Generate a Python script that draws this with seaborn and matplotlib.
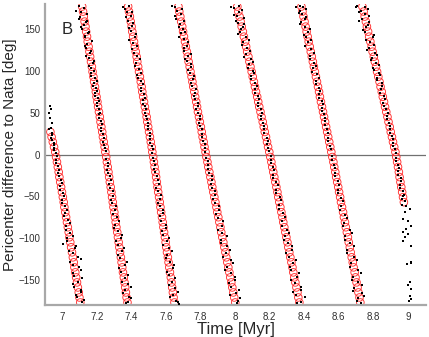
import matplotlib
matplotlib.use("Agg")
import matplotlib.pyplot as plt
import pandas as pd
import seaborn as sns

# pericenter difference (deg) sampled for the smoothed (red) solution, one full wrap
red_deg = [177, 171, 165, 159, 153, 147, 141, 135, 129, 123, 117, 111, 105, 99, 93,
           87, 81, 75, 69, 63, 57, 51, 45, 39, 33, 27, 21, 15, 9, 3,
           -3, -9, -15, -21, -27, -33, -39, -45, -51, -57, -63, -69, -75, -81, -87,
           -93, -99, -105, -111, -117, -123, -129, -135, -141, -147, -153, -159, -165, -171, -177]

# times (Myr) of the red circles, one list per wrap
red_t_b0 = [6.931, 6.938, 6.945, 6.952, 6.959, 6.964, 6.969, 6.974, 6.979, 6.983, 6.988, 6.993,
            6.998, 7.003, 7.008, 7.012, 7.017, 7.022, 7.027, 7.032, 7.037, 7.041, 7.046, 7.051,
            7.056, 7.061, 7.066, 7.070, 7.075, 7.080, 7.085, 7.090, 7.095, 7.099, 7.104]
red_t_b1 = [7.115, 7.120, 7.124, 7.129, 7.134, 7.138, 7.143, 7.147, 7.152, 7.157, 7.161, 7.166,
            7.171, 7.175, 7.180, 7.184, 7.189, 7.194, 7.198, 7.203, 7.207, 7.212, 7.217, 7.221,
            7.226, 7.231, 7.235, 7.240, 7.245, 7.249,
            7.254, 7.258, 7.263, 7.267, 7.271, 7.275, 7.280, 7.284, 7.288, 7.292, 7.296, 7.301,
            7.305, 7.309, 7.313, 7.318, 7.322, 7.326, 7.330, 7.334, 7.339, 7.343, 7.347, 7.351,
            7.356, 7.360, 7.364, 7.368, 7.372, 7.377]
red_t_b2 = [7.381, 7.386, 7.391, 7.396, 7.401, 7.405, 7.410, 7.415, 7.420, 7.425, 7.430, 7.434,
            7.439, 7.444, 7.449, 7.454, 7.459, 7.463, 7.468, 7.473, 7.478, 7.483, 7.488, 7.492,
            7.497, 7.502, 7.507, 7.512, 7.517, 7.521,
            7.526, 7.530, 7.534, 7.539, 7.543, 7.547, 7.551, 7.555, 7.560, 7.564, 7.568, 7.572,
            7.577, 7.581, 7.585, 7.589, 7.594, 7.598, 7.602, 7.606, 7.611, 7.615, 7.619, 7.623,
            7.628, 7.632, 7.636, 7.640, 7.644, 7.649]
red_t_b3 = [7.672, 7.677, 7.683, 7.688, 7.694, 7.699, 7.704, 7.710, 7.715, 7.721, 7.726, 7.731,
            7.737, 7.742, 7.748, 7.753, 7.758, 7.764, 7.769, 7.775, 7.780, 7.785, 7.791, 7.796,
            7.802, 7.807, 7.812, 7.818, 7.823, 7.829,
            7.834, 7.840, 7.845, 7.851, 7.857, 7.863, 7.868, 7.874, 7.880, 7.886, 7.892, 7.897,
            7.903, 7.909, 7.915, 7.920, 7.926, 7.932, 7.938, 7.944, 7.949, 7.955, 7.961, 7.967,
            7.972, 7.978, 7.984, 7.990, 7.995, 8.001]
red_t_b4 = [8.013, 8.019, 8.026, 8.032, 8.038, 8.045, 8.051, 8.058, 8.064, 8.070, 8.077, 8.083,
            8.089, 8.096, 8.102, 8.109, 8.115, 8.121, 8.128, 8.134, 8.140, 8.147, 8.153, 8.160,
            8.166, 8.172, 8.179, 8.185, 8.191, 8.198,
            8.204, 8.210, 8.215, 8.221, 8.227, 8.233, 8.239, 8.245, 8.250, 8.256, 8.262, 8.268,
            8.274, 8.279, 8.285, 8.291, 8.297, 8.303, 8.308, 8.314, 8.320, 8.326, 8.332, 8.337,
            8.343, 8.349, 8.355, 8.361, 8.366, 8.372]
red_t_b5 = [8.384, 8.390, 8.396, 8.402, 8.408, 8.414, 8.420, 8.426, 8.432, 8.438, 8.444, 8.450,
            8.456, 8.462, 8.468, 8.474, 8.480, 8.486, 8.491, 8.497, 8.503, 8.509, 8.515, 8.521,
            8.527, 8.533, 8.539, 8.545, 8.551, 8.557,
            8.563, 8.569, 8.574, 8.580, 8.585, 8.591, 8.597, 8.602, 8.608, 8.613, 8.619, 8.625,
            8.630, 8.636, 8.641, 8.647, 8.653, 8.658, 8.664, 8.669, 8.675, 8.681, 8.686, 8.692,
            8.697, 8.703, 8.709, 8.714, 8.720, 8.725]
red_t_b6 = [8.737, 8.744, 8.750, 8.757, 8.763, 8.770, 8.776, 8.783, 8.790, 8.796, 8.803, 8.809,
            8.816, 8.822, 8.829, 8.836, 8.842, 8.849, 8.855, 8.862, 8.868, 8.875, 8.882, 8.888,
            8.895, 8.901, 8.908, 8.914, 8.921, 8.928,
            8.933, 8.938, 8.943, 8.948, 8.952, 8.957, 8.962, 8.967, 8.972, 8.977]

# individual samples (black dots): (time Myr, deg)
dots_b0 = [(6.930, 58), (6.937, 55), (6.920, 50), (6.928, 44), (6.942, 38), (6.935, 32),
           (6.939, 26), (6.936, 20), (6.949, 14), (6.951, 8), (6.962, 2), (6.965, -6),
           (6.976, -14), (6.976, -22), (6.990, -30), (6.989, -38), (7.003, -46), (7.001, -54),
           (7.017, -62), (7.013, -70), (7.032, -78), (7.024, -86), (7.046, -94), (7.029, -100),
           (7.003, -107), (7.071, -112), (7.059, -118), (7.106, -125), (7.061, -132),
           (7.111, -138), (7.065, -145), (7.090, -152), (7.067, -158), (7.107, -165),
           (7.085, -170), (7.113, -176),
           (6.924, 30), (6.940, 23), (6.939, 17), (6.954, 11), (6.952, 5), (6.968, -2),
           (6.966, -10), (6.981, -18), (6.978, -26), (6.997, -34), (6.988, -42), (7.012, -50),
           (6.998, -58), (7.028, -66), (7.009, -74), (7.045, -82), (7.019, -90), (7.063, -97),
           (7.026, -104), (7.079, -110), (7.038, -116), (7.093, -122), (7.043, -128),
           (7.099, -135), (7.060, -142), (7.115, -148), (7.061, -155), (7.110, -162),
           (7.079, -168), (7.124, -174)]
dots_b1 = [(7.109, 170), (7.097, 178), (7.125, 175), (7.100, 165), (7.140, 160), (7.124, 155),
           (7.116, 150), (7.146, 145), (7.130, 140), (7.144, 132), (7.135, 128), (7.162, 122),
           (7.153, 115), (7.179, 110), (7.168, 104), (7.164, 98), (7.187, 92), (7.181, 86),
           (7.193, 80), (7.187, 74), (7.204, 68), (7.201, 62), (7.215, 55), (7.213, 48),
           (7.224, 40), (7.224, 32), (7.235, 24), (7.238, 15), (7.249, 8), (7.254, -5),
           (7.266, -14), (7.265, -22), (7.279, -31), (7.278, -40), (7.295, -50), (7.289, -58),
           (7.305, -66), (7.319, -75), (7.305, -84), (7.320, -92), (7.339, -100), (7.320, -108),
           (7.344, -116), (7.336, -124), (7.363, -132), (7.341, -140), (7.362, -148),
           (7.381, -155), (7.360, -162), (7.384, -170), (7.380, -176),
           (7.079, 172), (7.142, 168), (7.097, 162), (7.138, 158), (7.111, 152), (7.155, 147),
           (7.132, 142), (7.169, 136), (7.132, 130), (7.166, 124), (7.135, 118), (7.182, 112),
           (7.154, 106), (7.185, 100), (7.167, 94), (7.198, 88), (7.179, 82), (7.203, 76),
           (7.192, 70), (7.211, 64), (7.201, 58), (7.219, 50), (7.213, 44), (7.229, 36),
           (7.226, 28), (7.241, 20), (7.240, 11), (7.253, 4), (7.265, -10), (7.260, -18),
           (7.278, -26), (7.271, -35), (7.293, -44), (7.280, -54), (7.310, -62), (7.292, -71),
           (7.328, -80), (7.300, -88), (7.344, -96), (7.309, -104), (7.357, -112),
           (7.325, -120), (7.372, -128), (7.328, -136), (7.382, -144), (7.345, -152),
           (7.398, -158), (7.349, -166), (7.399, -172), (7.368, -178)]
dots_b2 = [(7.385, 178), (7.362, 174), (7.375, 170), (7.400, 166), (7.379, 160), (7.402, 154),
           (7.395, 148), (7.419, 140), (7.411, 133), (7.406, 126), (7.435, 118), (7.427, 110),
           (7.446, 102), (7.435, 95), (7.455, 88), (7.454, 80), (7.471, 72), (7.468, 65),
           (7.480, 58), (7.481, 50), (7.492, 42), (7.495, 34), (7.506, 26), (7.507, 18),
           (7.518, 10), (7.520, 2), (7.533, -8), (7.533, -17), (7.546, -26), (7.557, -35),
           (7.551, -44), (7.567, -53), (7.563, -62), (7.583, -70), (7.574, -79), (7.598, -88),
           (7.584, -96), (7.603, -104), (7.619, -112), (7.605, -120), (7.624, -128),
           (7.640, -136), (7.618, -144), (7.637, -152), (7.651, -160), (7.639, -168),
           (7.658, -175), (7.674, -179),
           (7.352, 176), (7.404, 171), (7.368, 164), (7.409, 157), (7.384, 151), (7.428, 144),
           (7.388, 137), (7.433, 130), (7.416, 122), (7.450, 114), (7.419, 106), (7.457, 98),
           (7.437, 91), (7.466, 84), (7.453, 76), (7.477, 68), (7.468, 61), (7.486, 54),
           (7.482, 46), (7.498, 38), (7.496, 30), (7.510, 22), (7.509, 14), (7.523, 6),
           (7.523, -4), (7.537, -12), (7.534, -21), (7.553, -30), (7.545, -40), (7.569, -49),
           (7.555, -58), (7.585, -66), (7.564, -74), (7.601, -84), (7.575, -92), (7.617, -100),
           (7.584, -108), (7.632, -116), (7.600, -124), (7.647, -132), (7.605, -140),
           (7.654, -148), (7.620, -156), (7.670, -164), (7.624, -170), (7.667, -177)]
dots_b3 = [(7.650, 177), (7.664, 172), (7.686, 168), (7.657, 162), (7.683, 156), (7.700, 150),
           (7.685, 145), (7.703, 138), (7.722, 130), (7.707, 124), (7.727, 118), (7.724, 112),
           (7.745, 105), (7.739, 98), (7.754, 90), (7.751, 82), (7.770, 74), (7.769, 66),
           (7.784, 58), (7.784, 50), (7.797, 42), (7.797, 34), (7.811, 25), (7.815, 16),
           (7.827, 8), (7.833, -4), (7.846, -12), (7.849, -22), (7.866, -30), (7.865, -40),
           (7.885, -48), (7.881, -58), (7.904, -66), (7.900, -76), (7.927, -85), (7.925, -94),
           (7.919, -102), (7.953, -110), (7.948, -118), (7.974, -126), (7.952, -134),
           (7.979, -142), (8.001, -150), (7.977, -158), (8.007, -166), (8.026, -172),
           (8.010, -178),
           (7.635, 178), (7.690, 174), (7.652, 166), (7.707, 160), (7.673, 153), (7.709, 147),
           (7.678, 141), (7.730, 134), (7.703, 127), (7.747, 120), (7.710, 114), (7.746, 108),
           (7.728, 101), (7.762, 94), (7.744, 86), (7.771, 78), (7.760, 70), (7.783, 62),
           (7.776, 54), (7.796, 46), (7.792, 38), (7.809, 30), (7.808, 21), (7.824, 12),
           (7.824, 3), (7.844, -8), (7.842, -17), (7.864, -26), (7.858, -35), (7.885, -44),
           (7.872, -53), (7.907, -62), (7.887, -71), (7.928, -80), (7.901, -90), (7.951, -98),
           (7.919, -106), (7.971, -114), (7.930, -122), (7.990, -130), (7.944, -138),
           (8.001, -146), (7.965, -154), (8.023, -162), (7.972, -168), (8.019, -175)]
dots_b4 = [(8.024, 178), (7.996, 175), (8.025, 170), (8.013, 166), (8.007, 160), (8.050, 156),
           (8.036, 150), (8.026, 146), (8.061, 140), (8.045, 134), (8.067, 128), (8.064, 120),
           (8.092, 114), (8.083, 108), (8.101, 100), (8.093, 94), (8.114, 86), (8.114, 78),
           (8.133, 70), (8.132, 62), (8.148, 54), (8.150, 46), (8.164, 38), (8.166, 30),
           (8.182, 20), (8.186, 12), (8.199, 4), (8.205, -6), (8.219, -15), (8.221, -24),
           (8.238, -33), (8.238, -42), (8.258, -51), (8.253, -60), (8.279, -70), (8.270, -80),
           (8.300, -90), (8.286, -98), (8.309, -106), (8.329, -114), (8.313, -122),
           (8.337, -130), (8.322, -138), (8.358, -146), (8.346, -154), (8.384, -162),
           (8.353, -168), (8.383, -176),
           (7.979, 177), (8.038, 173), (7.994, 167), (8.054, 163), (8.019, 157), (8.046, 152),
           (8.018, 144), (8.078, 137), (8.042, 131), (8.084, 124), (8.053, 117), (8.101, 111),
           (8.077, 104), (8.112, 97), (8.094, 90), (8.124, 82), (8.113, 74), (8.139, 66),
           (8.132, 58), (8.154, 50), (8.151, 42), (8.170, 34), (8.169, 26), (8.188, 16),
           (8.189, 8), (8.207, -2), (8.207, -10), (8.225, -19), (8.222, -28), (8.247, -37),
           (8.237, -46), (8.266, -55), (8.252, -65), (8.290, -75), (8.269, -85), (8.312, -94),
           (8.284, -102), (8.331, -110), (8.295, -118), (8.353, -126), (8.315, -134),
           (8.372, -142), (8.326, -150), (8.384, -158), (8.336, -164), (8.402, -171),
           (8.361, -178)]
dots_b5 = [(8.375, 178), (8.395, 176), (8.375, 172), (8.389, 168), (8.413, 164), (8.383, 158),
           (8.403, 152), (8.423, 146), (8.409, 140), (8.423, 134), (8.441, 126), (8.431, 118),
           (8.455, 110), (8.452, 103), (8.473, 96), (8.469, 88), (8.484, 80), (8.484, 72),
           (8.501, 64), (8.501, 56), (8.515, 48), (8.518, 40), (8.532, 30), (8.538, 20),
           (8.552, 10), (8.560, -2), (8.574, -12), (8.578, -22), (8.595, -32), (8.595, -42),
           (8.615, -52), (8.612, -62), (8.637, -72), (8.629, -82), (8.664, -90), (8.639, -98),
           (8.667, -106), (8.648, -114), (8.690, -122), (8.673, -130), (8.711, -138),
           (8.682, -146), (8.712, -152), (8.689, -160), (8.733, -166), (8.710, -172),
           (8.730, -178),
           (8.350, 177), (8.411, 174), (8.368, 169), (8.405, 162), (8.375, 156), (8.431, 150),
           (8.398, 143), (8.438, 137), (8.405, 130), (8.457, 122), (8.431, 114), (8.467, 106),
           (8.448, 99), (8.483, 92), (8.467, 84), (8.494, 76), (8.484, 68), (8.508, 60),
           (8.502, 52), (8.522, 44), (8.520, 35), (8.538, 26), (8.540, 16), (8.558, 6),
           (8.562, -6), (8.580, -16), (8.579, -26), (8.602, -36), (8.595, -46), (8.624, -56),
           (8.610, -66), (8.647, -76), (8.624, -86), (8.676, -94), (8.635, -102), (8.687, -110),
           (8.646, -118), (8.708, -126), (8.665, -134), (8.726, -142), (8.674, -150),
           (8.734, -156), (8.682, -163), (8.748, -169), (8.707, -175)]
dots_b6 = [(8.708, 178), (8.752, 176), (8.731, 172), (8.751, 168), (8.732, 162), (8.774, 158),
           (8.757, 152), (8.751, 146), (8.800, 140), (8.780, 134), (8.775, 128), (8.810, 122),
           (8.794, 116), (8.815, 110), (8.799, 104), (8.832, 98), (8.824, 92), (8.849, 86),
           (8.842, 78), (8.860, 70), (8.857, 62), (8.876, 54), (8.878, 46), (8.893, 38),
           (8.895, 30), (8.910, 22), (8.914, 14), (8.926, 6), (8.932, -4), (8.944, -12),
           (8.945, -20), (8.958, -28), (8.957, -36), (8.972, -44), (8.969, -50), (8.982, -56),
           (8.964, -60), (8.992, -62), (9.012, -65), (8.983, -69), (8.973, -77), (9.002, -79),
           (9.021, -85), (8.992, -89), (8.969, -93), (9.002, -95), (8.983, -99), (8.973, -103),
           (9.021, -109), (9.016, -129), (8.996, -131), (9.019, -130), (9.012, -153),
           (9.002, -156), (9.019, -161), (9.012, -169), (9.006, -175), (9.019, -173),
           (8.697, 177), (8.769, 174), (8.715, 170), (8.773, 166), (8.720, 160), (8.767, 155),
           (8.740, 149), (8.805, 143), (8.757, 137), (8.806, 131), (8.764, 125), (8.821, 119),
           (8.785, 113), (8.832, 107), (8.805, 101), (8.841, 95), (8.820, 89), (8.853, 82),
           (8.840, 74), (8.869, 66), (8.860, 58), (8.883, 50), (8.879, 42), (8.899, 34),
           (8.898, 26), (8.915, 18), (8.916, 10), (8.933, 2), (8.933, -8), (8.949, -16),
           (8.945, -24), (8.963, -32), (8.957, -40), (8.978, -48), (8.966, -53)]

x_ticks = [7, 7.2, 7.4, 7.6, 7.8, 8, 8.2, 8.4, 8.6, 8.8, 9]
x_tick_labels = ["7", "7.2", "7.4", "7.6", "7.8", "8", "8.2", "8.4", "8.6", "8.8", "9"]
y_ticks = [-150, -100, -50, 0, 50, 100, 150]

# build tables
red_parts = [(red_t_b0, red_deg[25:]), (red_t_b1, red_deg), (red_t_b2, red_deg),
             (red_t_b3, red_deg), (red_t_b4, red_deg), (red_t_b5, red_deg),
             (red_t_b6, red_deg[:40])]
red_df = pd.concat([pd.DataFrame({"time": t, "deg": d}) for t, d in red_parts],
                   ignore_index=True)
all_dots = dots_b0 + dots_b1 + dots_b2 + dots_b3 + dots_b4 + dots_b5 + dots_b6
dots_df = pd.DataFrame(all_dots, columns=["time", "deg"])

sns.set_style("white")
plt.rcParams["font.family"] = ["Liberation Sans", "DejaVu Sans"]

fig = plt.figure(figsize=(4.29, 3.37), dpi=100)
ax = fig.add_axes([0.105, 0.095, 0.888, 0.893])

ax.axhline(0, color="#707070", lw=0.9, zorder=1)
sns.scatterplot(data=red_df, x="time", y="deg", ax=ax, marker="o", s=30,
                facecolor="none", edgecolor="#ff3030", linewidth=0.65, zorder=2)
sns.scatterplot(data=dots_df, x="time", y="deg", ax=ax, color="black", marker="s",
                s=4, linewidth=0, zorder=3)

ax.set_xlim(6.9, 9.105)
ax.set_ylim(-180, 180)
ax.set_xticks(x_ticks)
ax.set_xticklabels(x_tick_labels)
ax.set_yticks(y_ticks)
ax.tick_params(direction="in", length=3, width=0.8, color="#909090",
               labelsize=7, labelcolor="#303030")
ax.tick_params(axis="y", pad=3.5)
ax.tick_params(axis="x", pad=5)
for side in ["top", "right"]:
    ax.spines[side].set_visible(False)
for side in ["left", "bottom"]:
    ax.spines[side].set_color("#a8a8a8")
    ax.spines[side].set_linewidth(1.6)

ax.set_xlabel("Time [Myr]", fontsize=12, labelpad=0)
ax.set_ylabel("Pericenter difference to Nata [deg]", fontsize=11)
ax.yaxis.set_label_coords(-0.073, 0.5)
ax.text(7.026, 149, "B", fontsize=12, ha="center", va="center")

fig.savefig("out.png", dpi=100)
